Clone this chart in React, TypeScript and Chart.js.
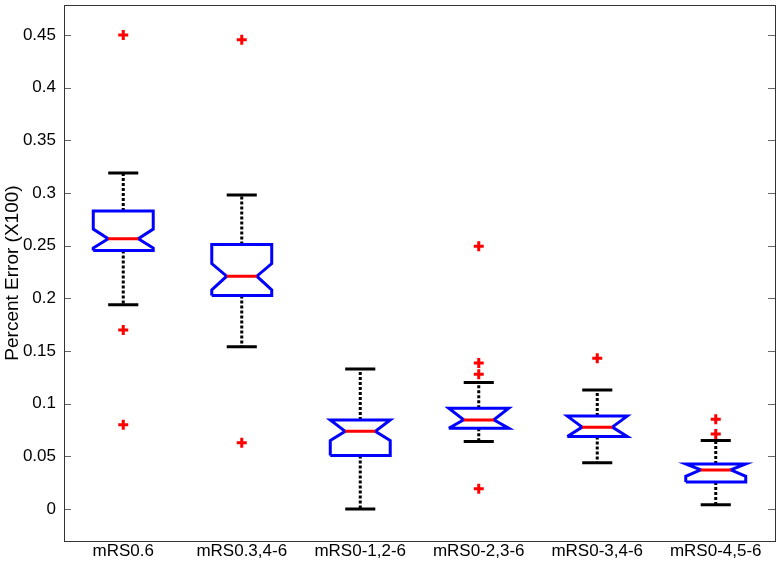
import React, { useEffect, useRef } from "react";
import { Chart, registerables } from "chart.js";

Chart.register(...registerables);

const categories = ["mRS0.6", "mRS0.3,4-6", "mRS0-1,2-6", "mRS0-2,3-6", "mRS0-3,4-6", "mRS0-4,5-6"];
const upperWhisker = [0.319, 0.298, 0.133, 0.12, 0.113, 0.065];
const q3 = [0.283, 0.251, 0.0846, 0.0957, 0.0882, 0.0428];
const notchHigh = [0.2657, 0.233, 0.0846, 0.0957, 0.0882, 0.0428];
const medians = [0.2565, 0.221, 0.0738, 0.0846, 0.0777, 0.0371];
const notchLow = [0.2477, 0.208, 0.065, 0.0767, 0.0688, 0.031];
const q1 = [0.2454, 0.2026, 0.0507, 0.0767, 0.0688, 0.0257];
const lowerWhisker = [0.194, 0.154, 0.0, 0.064, 0.044, 0.0041];
const outliers = [
  [0.45, 0.17, 0.08],
  [0.4455, 0.063],
  [],
  [0.2494, 0.1385, 0.128, 0.0193],
  [0.143],
  [0.0853, 0.0713],
];
const yTicks = [0, 0.05, 0.1, 0.15, 0.2, 0.25, 0.3, 0.35, 0.4, 0.45];

const BOX_HALF = 0.253;
const NOTCH_HALF = 0.127;

export default function App() {
  const ref = useRef<HTMLCanvasElement | null>(null);

  useEffect(() => {
    if (!ref.current) return;
    const whiskers: any[] = [];
    const caps: any[] = [];
    const boxes: any[] = [];
    const meds: any[] = [];
    const outs: any[] = [];
    categories.forEach((_, i) => {
      const c = i + 1;
      whiskers.push({ x: c, y: q3[i] }, { x: c, y: upperWhisker[i] }, { x: c, y: null });
      whiskers.push({ x: c, y: q1[i] }, { x: c, y: lowerWhisker[i] }, { x: c, y: null });
      caps.push({ x: c - NOTCH_HALF, y: upperWhisker[i] }, { x: c + NOTCH_HALF, y: upperWhisker[i] }, { x: c, y: null });
      caps.push({ x: c - NOTCH_HALF, y: lowerWhisker[i] }, { x: c + NOTCH_HALF, y: lowerWhisker[i] }, { x: c, y: null });
      boxes.push(
        { x: c - BOX_HALF, y: q1[i] },
        { x: c - BOX_HALF, y: notchLow[i] },
        { x: c - NOTCH_HALF, y: medians[i] },
        { x: c - BOX_HALF, y: notchHigh[i] },
        { x: c - BOX_HALF, y: q3[i] },
        { x: c + BOX_HALF, y: q3[i] },
        { x: c + BOX_HALF, y: notchHigh[i] },
        { x: c + NOTCH_HALF, y: medians[i] },
        { x: c + BOX_HALF, y: notchLow[i] },
        { x: c + BOX_HALF, y: q1[i] },
        { x: c - BOX_HALF, y: q1[i] },
        { x: c, y: null }
      );
      meds.push({ x: c - NOTCH_HALF, y: medians[i] }, { x: c + NOTCH_HALF, y: medians[i] }, { x: c, y: null });
      outliers[i].forEach((v) => outs.push({ x: c, y: v }));
    });

    const lineBase = {
      showLine: true,
      pointRadius: 0,
      pointHoverRadius: 0,
      fill: false,
      spanGaps: false,
      tension: 0,
      borderCapStyle: "butt" as const,
      borderJoinStyle: "miter" as const,
    };

    const frame = {
      id: "frame",
      afterDraw(chart: any) {
        const { ctx, chartArea, scales } = chart;
        ctx.save();
        ctx.strokeStyle = "#666";
        ctx.lineWidth = 1;
        yTicks.forEach((v) => {
          const y = Math.round(scales.y.getPixelForValue(v)) + 0.5;
          ctx.beginPath();
          ctx.moveTo(chartArea.left, y);
          ctx.lineTo(chartArea.left + 7, y);
          ctx.moveTo(chartArea.right, y);
          ctx.lineTo(chartArea.right - 7, y);
          ctx.stroke();
        });
        ctx.strokeStyle = "#333";
        ctx.strokeRect(
          Math.round(chartArea.left) + 0.5,
          Math.round(chartArea.top) + 0.5,
          Math.round(chartArea.right - chartArea.left),
          Math.round(chartArea.bottom - chartArea.top)
        );
        ctx.restore();
      },
    };

    const font = { family: "'Liberation Sans', Arial, sans-serif", size: 17 };
    const titleFont = { family: "'Liberation Sans', Arial, sans-serif", size: 19 };

    const chart = new Chart(ref.current, {
      type: "scatter",
      data: {
        datasets: [
          { ...lineBase, data: whiskers, borderColor: "#000", borderWidth: 3, borderDash: [3, 2], order: 5 },
          { ...lineBase, data: caps, borderColor: "#000", borderWidth: 3, order: 4 },
          { ...lineBase, data: boxes, borderColor: "#0000ff", borderWidth: 3, order: 3 },
          { ...lineBase, data: meds, borderColor: "#ff0000", borderWidth: 3, order: 2 },
          {
            data: outs,
            showLine: false,
            pointStyle: "cross",
            pointRadius: 5,
            pointHoverRadius: 5,
            pointBorderWidth: 3,
            borderWidth: 3,
            borderColor: "#ff0000",
            backgroundColor: "#ff0000",
            order: 1,
          },
        ] as any,
      },
      options: {
        animation: false,
        responsive: false,
        maintainAspectRatio: false,
        events: [],
        layout: { autoPadding: false, padding: { top: 5, right: 5, left: 0, bottom: 0 } },
        plugins: { legend: { display: false }, tooltip: { enabled: false } },
        scales: {
          x: {
            type: "linear",
            min: 0.5,
            max: 6.5,
            afterBuildTicks: (s: any) => {
              s.ticks = categories.map((_, i) => ({ value: i + 1 }));
            },
            afterFit: (s: any) => {
              s.height = 20;
              s.paddingLeft = 0;
              s.paddingRight = 0;
            },
            grid: { display: false, drawTicks: false },
            border: { display: false },
            ticks: {
              autoSkip: false,
              maxRotation: 0,
              padding: 0,
              color: "#000",
              font,
              callback: (v: any) => categories[Math.round(Number(v)) - 1] ?? "",
            },
          },
          y: {
            type: "linear",
            min: -0.0304,
            max: 0.4785,
            afterBuildTicks: (s: any) => {
              s.ticks = yTicks.map((v) => ({ value: v }));
            },
            afterFit: (s: any) => {
              s.width = 64;
              s.paddingTop = 0;
              s.paddingBottom = 0;
            },
            grid: { display: false, drawTicks: false },
            border: { display: false },
            ticks: {
              padding: 8,
              color: "#000",
              font,
              callback: (v: any) => String(+Number(v).toFixed(2)),
            },
            title: {
              display: true,
              text: "Percent Error (X100)",
              color: "#000",
              font: titleFont,
              padding: { top: 1, bottom: 0 },
            },
          },
        },
      },
      plugins: [frame],
    });
    return () => chart.destroy();
  }, []);

  return (
    <div style={{ position: "fixed", left: 0, top: 0, width: 780, height: 561, background: "#fff" }}>
      <canvas ref={ref} width={780} height={561} style={{ width: 780, height: 561, display: "block" }} />
    </div>
  );
}
